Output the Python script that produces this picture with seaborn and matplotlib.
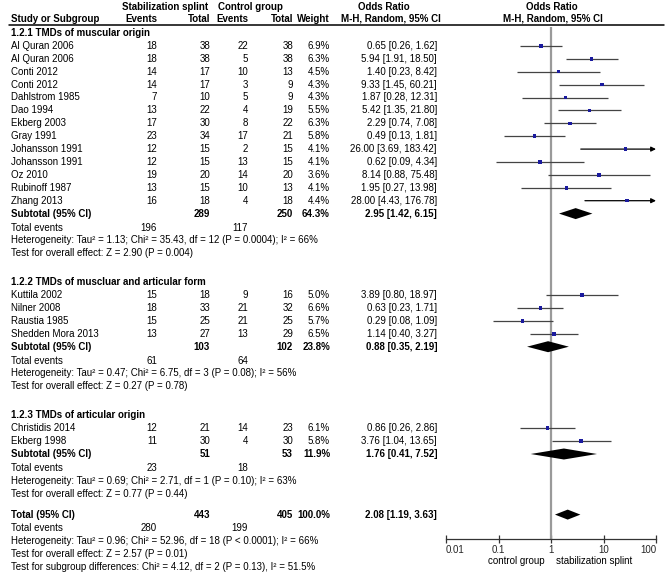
import numpy as np
import matplotlib
matplotlib.use("Agg")
import matplotlib.pyplot as plt
import seaborn as sns

# --- study level data ---
group_titles = ["1.2.1 TMDs of muscular origin",
                "1.2.2 TMDs of muscluar and articular form",
                "1.2.3 TMDs of articular origin"]
study = ["Al Quran 2006", "Al Quran 2006", "Conti 2012", "Conti 2012", "Dahlstrom 1985",
         "Dao 1994", "Ekberg 2003", "Gray 1991", "Johansson 1991", "Johansson 1991",
         "Oz 2010", "Rubinoff 1987", "Zhang 2013",
         "Kuttila 2002", "Nilner 2008", "Raustia 1985", "Shedden Mora 2013",
         "Christidis 2014", "Ekberg 1998"]
group_idx = [0] * 13 + [1] * 4 + [2] * 2
splint_events = [18, 18, 14, 14, 7, 13, 17, 23, 12, 12, 19, 13, 16, 15, 18, 15, 13, 12, 11]
splint_total = [38, 38, 17, 17, 10, 22, 30, 34, 15, 15, 20, 15, 18, 18, 33, 25, 27, 21, 30]
ctrl_events = [22, 5, 10, 3, 5, 4, 8, 17, 2, 13, 14, 10, 4, 9, 21, 21, 13, 14, 4]
ctrl_total = [38, 38, 13, 9, 9, 19, 22, 21, 15, 15, 20, 13, 18, 16, 32, 25, 29, 23, 30]
weight = [6.9, 6.3, 4.5, 4.3, 4.3, 5.5, 6.3, 5.8, 4.1, 4.1, 3.6, 4.1, 4.4,
          5.0, 6.6, 5.7, 6.5, 6.1, 5.8]
odds = [0.65, 5.94, 1.40, 9.33, 1.87, 5.42, 2.29, 0.49, 26.00, 0.62, 8.14, 1.95, 28.00,
        3.89, 0.63, 0.29, 1.14, 0.86, 3.76]
ci_low = [0.26, 1.91, 0.23, 1.45, 0.28, 1.35, 0.74, 0.13, 3.69, 0.09, 0.88, 0.27, 4.43,
          0.80, 0.23, 0.08, 0.40, 0.26, 1.04]
ci_high = [1.62, 18.50, 8.42, 60.21, 12.31, 21.80, 7.08, 1.81, 183.42, 4.34, 75.48, 13.98, 176.78,
           18.97, 1.71, 1.09, 3.27, 2.86, 13.65]

# --- subgroup summaries ---
sub_splint_total = [289, 103, 51]
sub_ctrl_total = [250, 102, 53]
sub_weight = [64.3, 23.8, 11.9]
sub_or = [2.95, 0.88, 1.76]
sub_low = [1.42, 0.35, 0.41]
sub_high = [6.15, 2.19, 7.52]
sub_splint_events = [196, 61, 23]
sub_ctrl_events = [117, 64, 18]
sub_het = ["Heterogeneity: Tau² = 1.13; Chi² = 35.43, df = 12 (P = 0.0004); I² = 66%",
           "Heterogeneity: Tau² = 0.47; Chi² = 6.75, df = 3 (P = 0.08); I² = 56%",
           "Heterogeneity: Tau² = 0.69; Chi² = 2.71, df = 1 (P = 0.10); I² = 63%"]
sub_test = ["Test for overall effect: Z = 2.90 (P = 0.004)",
            "Test for overall effect: Z = 0.27 (P = 0.78)",
            "Test for overall effect: Z = 0.77 (P = 0.44)"]

# --- overall ---
tot_splint_total, tot_ctrl_total, tot_weight = 443, 405, 100.0
tot_or, tot_low, tot_high = 2.08, 1.19, 3.63
tot_splint_events, tot_ctrl_events = 280, 199
tot_het = "Heterogeneity: Tau² = 0.96; Chi² = 52.96, df = 18 (P < 0.0001); I² = 66%"
tot_test = "Test for overall effect: Z = 2.57 (P = 0.01)"
tot_diff = "Test for subgroup differences: Chi² = 4.12, df = 2 (P = 0.13), I² = 51.5%"

ticks = [0.01, 0.1, 1, 10, 100]
tick_labels = ["0.01", "0.1", "1", "10", "100"]

sns.set_theme(style="white")
plt.rcParams["font.family"] = ["Liberation Sans", "DejaVu Sans"]
FS = 7.0

W, H = 667, 575
fig = plt.figure(figsize=(W / 100, H / 100), dpi=100)
tax = fig.add_axes([0, 0, 1, 1])
tax.set_xlim(0, W)
tax.set_ylim(H, 0)
tax.axis("off")

AX_L, AX_R, AX_Y = 446, 656, 539
fax = fig.add_axes([AX_L / W, (H - AX_Y) / H, (AX_R - AX_L) / W, AX_Y / H])
fax.set_xscale("log")
fax.set_xlim(0.01, 100)
fax.set_ylim(AX_Y, 0)
fax.patch.set_alpha(0)

# column x positions (right edges)
X_NAME, X_SE, X_ST, X_CE, X_CT, X_W, X_OR = 11, 157, 210, 248, 293, 330, 437

def txt(x, y, s, ha="right", bold=False):
    tax.text(x, y, s, ha=ha, va="center", fontsize=FS,
             fontweight="bold" if bold else "normal", color="black")

# header
txt(165, 6.5, "Stabilization splint", ha="center", bold=True)
txt(250, 6.5, "Control group", ha="center", bold=True)
txt(384, 6.5, "Odds Ratio", ha="center", bold=True)
txt(552, 6.5, "Odds Ratio", ha="center", bold=True)
txt(X_NAME, 18.5, "Study or Subgroup", ha="left", bold=True)
txt(X_SE, 18.5, "Events", bold=True)
txt(X_ST, 18.5, "Total", bold=True)
txt(X_CE, 18.5, "Events", bold=True)
txt(X_CT, 18.5, "Total", bold=True)
txt(X_W, 18.5, "Weight", bold=True)
txt(391, 18.5, "M-H, Random, 95% CI", ha="center", bold=True)
txt(553, 18.5, "M-H, Random, 95% CI", ha="center", bold=True)
tax.plot([9, 664], [24.5, 24.5], color="black", lw=1.1)

P = 12.9
y = 33.0
study_y = []
sub_y = []
for g, title in enumerate(group_titles):
    txt(X_NAME, y, title, ha="left", bold=True)
    y += P
    for i in [k for k in range(len(study)) if group_idx[k] == g]:
        txt(X_NAME, y, study[i], ha="left")
        txt(X_SE, y, str(splint_events[i]))
        txt(X_ST, y, str(splint_total[i]))
        txt(X_CE, y, str(ctrl_events[i]))
        txt(X_CT, y, str(ctrl_total[i]))
        txt(X_W, y, f"{weight[i]:.1f}%")
        txt(X_OR, y, f"{odds[i]:.2f} [{ci_low[i]:.2f}, {ci_high[i]:.2f}]")
        study_y.append(y)
        y += P
    txt(X_NAME, y, "Subtotal (95% CI)", ha="left", bold=True)
    txt(X_ST, y, str(sub_splint_total[g]), bold=True)
    txt(X_CT, y, str(sub_ctrl_total[g]), bold=True)
    txt(X_W, y, f"{sub_weight[g]:.1f}%", bold=True)
    txt(X_OR, y, f"{sub_or[g]:.2f} [{sub_low[g]:.2f}, {sub_high[g]:.2f}]", bold=True)
    sub_y.append(y)
    y += P + 1
    txt(X_NAME, y, "Total events", ha="left")
    txt(X_SE, y, str(sub_splint_events[g]))
    txt(X_CE, y, str(sub_ctrl_events[g]))
    y += P
    txt(X_NAME, y, sub_het[g], ha="left")
    y += P
    txt(X_NAME, y, sub_test[g], ha="left")
    y += P + 16 if g < 2 else P + 8

tot_y = y
txt(X_NAME, y, "Total (95% CI)", ha="left", bold=True)
txt(X_ST, y, str(tot_splint_total), bold=True)
txt(X_CT, y, str(tot_ctrl_total), bold=True)
txt(X_W, y, f"{tot_weight:.1f}%", bold=True)
txt(X_OR, y, f"{tot_or:.2f} [{tot_low:.2f}, {tot_high:.2f}]", bold=True)
y += P + 1
txt(X_NAME, y, "Total events", ha="left")
txt(X_SE, y, str(tot_splint_events))
txt(X_CE, y, str(tot_ctrl_events))
y += P
txt(X_NAME, y, tot_het, ha="left")
y += P
txt(X_NAME, y, tot_test, ha="left")
y += P
txt(X_NAME, y, tot_diff, ha="left")

# --- forest panel ---
fax.vlines(1, 27, AX_Y, color="#9a9a9a", lw=1.6, zorder=1)
for o, lo, hi, yy in zip(odds, ci_low, ci_high, study_y):
    if hi > 100:
        fax.annotate("", xy=(100, yy), xytext=(lo, yy),
                     arrowprops=dict(arrowstyle="-|>", color="black", lw=0.9,
                                     mutation_scale=7, shrinkA=0, shrinkB=0), zorder=2)
    else:
        fax.hlines(yy, lo, hi, color="#444444", lw=0.9, zorder=2)
sns.scatterplot(x=odds, y=study_y, ax=fax, marker="s", s=6, color="#1a1a9e",
                edgecolor="none", legend=False, zorder=5)

def diamond(est, lo, hi, yy, h):
    fax.fill([lo, est, hi, est], [yy, yy - h, yy, yy + h], color="black", lw=0, zorder=3)

for g in range(3):
    diamond(sub_or[g], sub_low[g], sub_high[g], sub_y[g], 5.5)
diamond(tot_or, tot_low, tot_high, tot_y, 5.0)

for side in ["top", "left", "right"]:
    fax.spines[side].set_visible(False)
fax.spines["bottom"].set_color("#333333")
fax.spines["bottom"].set_linewidth(0.9)
fax.set_yticks([])
fax.set_xticks(ticks)
fax.set_xticklabels(tick_labels, fontsize=FS)
fax.xaxis.set_minor_locator(matplotlib.ticker.NullLocator())
fax.tick_params(axis="x", direction="inout", length=6, width=0.9, color="#333333",
                pad=1.5, bottom=True)
labels = fax.get_xticklabels()
labels[0].set_horizontalalignment("left")
labels[-1].set_horizontalalignment("right")
fax.grid(False)

txt(545, 561, "control group")
txt(556, 561, "stabilization splint", ha="left")

fig.savefig("out.png", dpi=100)
